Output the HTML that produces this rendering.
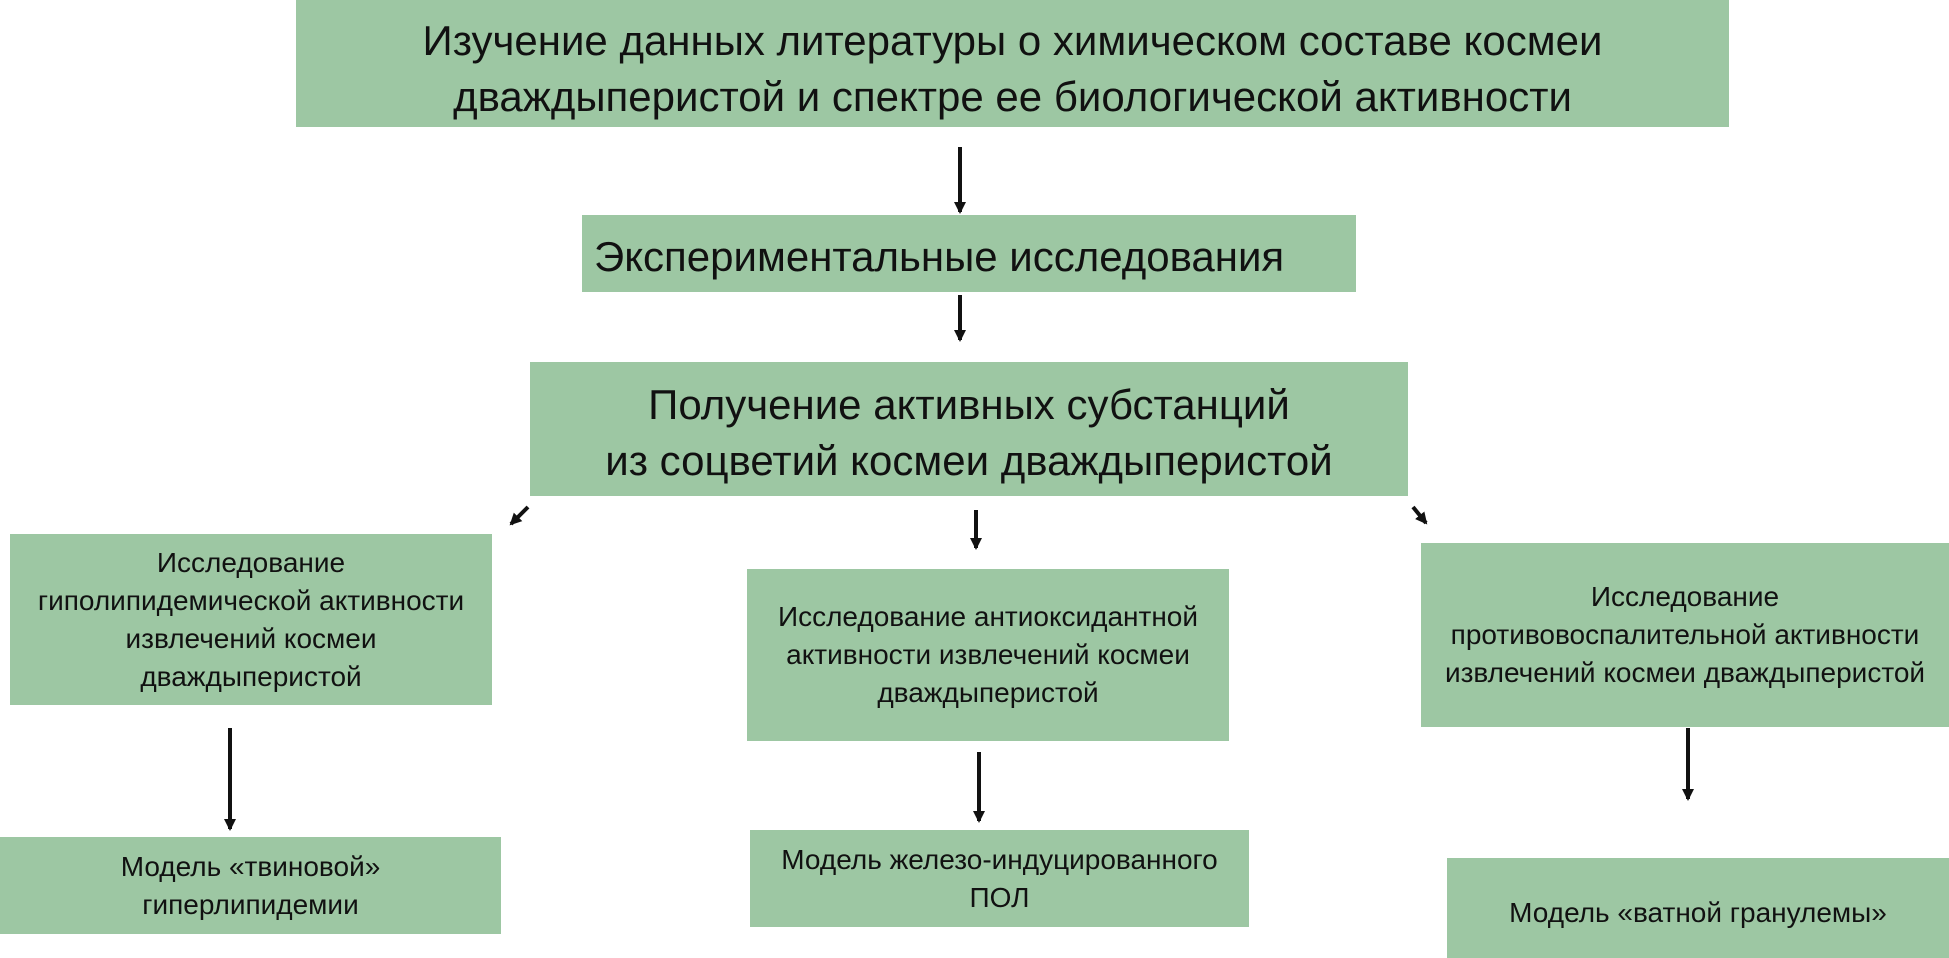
<!DOCTYPE html>
<html><head><meta charset="utf-8"><style>
body{margin:0;width:1949px;height:958px;background:#fff;position:relative;overflow:hidden;font-family:"Liberation Sans",sans-serif;color:#111}
.b{position:absolute;background:#9dc7a3;display:flex;flex-direction:column;align-items:center;justify-content:center;text-align:center;box-sizing:border-box}
.b span{display:block;white-space:nowrap}
.L{font-size:42px;line-height:56px}
.S{font-size:28px;line-height:38px}
</style></head><body>
<div class="b L" style="left:296px;top:0;width:1433px;height:127px;padding-top:10px"><span>Изучение данных литературы о химическом составе космеи</span><span>дваждыперистой и спектре ее биологической активности</span></div>
<div class="b L" style="left:582px;top:215px;width:774px;height:77px;align-items:flex-start;padding-top:6px"><span style="margin-left:12px">Экспериментальные исследования</span></div>
<div class="b L" style="left:530px;top:362px;width:878px;height:134px;padding-top:8px"><span>Получение активных субстанций</span><span>из соцветий космеи дваждыперистой</span></div>
<div class="b S" style="left:10px;top:534px;width:482px;height:171px"><span>Исследование</span><span>гиполипидемической активности</span><span>извлечений космеи</span><span>дваждыперистой</span></div>
<div class="b S" style="left:747px;top:569px;width:482px;height:172px"><span>Исследование антиоксидантной</span><span>активности извлечений космеи</span><span>дваждыперистой</span></div>
<div class="b S" style="left:1421px;top:543px;width:528px;height:184px"><span>Исследование</span><span>противовоспалительной активности</span><span>извлечений космеи дваждыперистой</span></div>
<div class="b S" style="left:0;top:837px;width:501px;height:97px"><span>Модель «твиновой»</span><span>гиперлипидемии</span></div>
<div class="b S" style="left:750px;top:830px;width:499px;height:97px"><span>Модель железо-индуцированного</span><span>ПОЛ</span></div>
<div class="b S" style="left:1447px;top:858px;width:502px;height:100px;padding-top:10px"><span>Модель «ватной гранулемы»</span></div>
<svg width="1949" height="958" style="position:absolute;left:0;top:0">
<defs><marker id="a" markerWidth="14" markerHeight="14" refX="10" refY="7" orient="auto" markerUnits="userSpaceOnUse"><path d="M0,1 L12,7 L0,13 z" fill="#111"/></marker></defs>
<g stroke="#111" stroke-width="4" marker-end="url(#a)">
<line x1="960" y1="147" x2="960" y2="212"/>
<line x1="960" y1="295" x2="960" y2="340"/>
<line x1="528" y1="507" x2="511" y2="524"/>
<line x1="976" y1="510" x2="976" y2="548"/>
<line x1="1413" y1="507" x2="1426" y2="523"/>
<line x1="230" y1="728" x2="230" y2="829"/>
<line x1="979" y1="752" x2="979" y2="821"/>
<line x1="1688" y1="728" x2="1688" y2="799"/>
</g></svg>
</body></html>
